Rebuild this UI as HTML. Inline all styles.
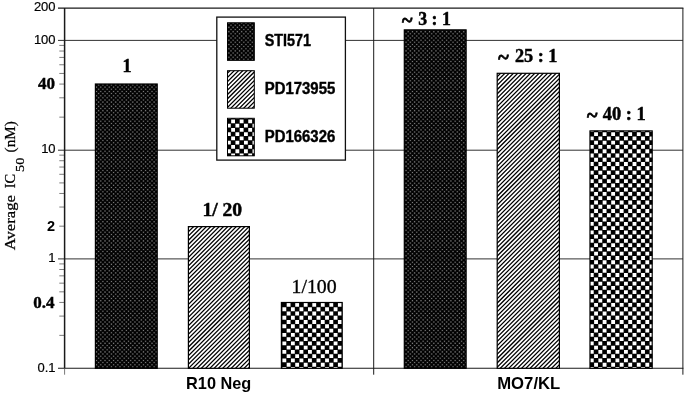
<!DOCTYPE html>
<html><head><meta charset="utf-8"><title>Average IC50</title>
<style>
html,body{margin:0;padding:0;background:#fff;}
svg{display:block;}
.sans{font-family:"Liberation Sans",Arial,Helvetica,sans-serif;}
.serif{font-family:"Liberation Serif","Times New Roman",serif;}
.b{font-weight:bold;}
</style></head><body>
<svg width="685" height="395" viewBox="0 0 685 395">
<defs>
<g id="pdots" transform="translate(-0.12,3.35) scale(1.0675)">
<rect x="-4" y="-4" width="657" height="386" fill="#000"/>
<path d="M-4 0.5H649M-2 2.5H649M-4 4.5H649M-2 6.5H649M-4 8.5H649M-2 10.5H649M-4 12.5H649M-2 14.5H649M-4 16.5H649M-2 18.5H649M-4 20.5H649M-2 22.5H649M-4 24.5H649M-2 26.5H649M-4 28.5H649M-2 30.5H649M-4 32.5H649M-2 34.5H649M-4 36.5H649M-2 38.5H649M-4 40.5H649M-2 42.5H649M-4 44.5H649M-2 46.5H649M-4 48.5H649M-2 50.5H649M-4 52.5H649M-2 54.5H649M-4 56.5H649M-2 58.5H649M-4 60.5H649M-2 62.5H649M-4 64.5H649M-2 66.5H649M-4 68.5H649M-2 70.5H649M-4 72.5H649M-2 74.5H649M-4 76.5H649M-2 78.5H649M-4 80.5H649M-2 82.5H649M-4 84.5H649M-2 86.5H649M-4 88.5H649M-2 90.5H649M-4 92.5H649M-2 94.5H649M-4 96.5H649M-2 98.5H649M-4 100.5H649M-2 102.5H649M-4 104.5H649M-2 106.5H649M-4 108.5H649M-2 110.5H649M-4 112.5H649M-2 114.5H649M-4 116.5H649M-2 118.5H649M-4 120.5H649M-2 122.5H649M-4 124.5H649M-2 126.5H649M-4 128.5H649M-2 130.5H649M-4 132.5H649M-2 134.5H649M-4 136.5H649M-2 138.5H649M-4 140.5H649M-2 142.5H649M-4 144.5H649M-2 146.5H649M-4 148.5H649M-2 150.5H649M-4 152.5H649M-2 154.5H649M-4 156.5H649M-2 158.5H649M-4 160.5H649M-2 162.5H649M-4 164.5H649M-2 166.5H649M-4 168.5H649M-2 170.5H649M-4 172.5H649M-2 174.5H649M-4 176.5H649M-2 178.5H649M-4 180.5H649M-2 182.5H649M-4 184.5H649M-2 186.5H649M-4 188.5H649M-2 190.5H649M-4 192.5H649M-2 194.5H649M-4 196.5H649M-2 198.5H649M-4 200.5H649M-2 202.5H649M-4 204.5H649M-2 206.5H649M-4 208.5H649M-2 210.5H649M-4 212.5H649M-2 214.5H649M-4 216.5H649M-2 218.5H649M-4 220.5H649M-2 222.5H649M-4 224.5H649M-2 226.5H649M-4 228.5H649M-2 230.5H649M-4 232.5H649M-2 234.5H649M-4 236.5H649M-2 238.5H649M-4 240.5H649M-2 242.5H649M-4 244.5H649M-2 246.5H649M-4 248.5H649M-2 250.5H649M-4 252.5H649M-2 254.5H649M-4 256.5H649M-2 258.5H649M-4 260.5H649M-2 262.5H649M-4 264.5H649M-2 266.5H649M-4 268.5H649M-2 270.5H649M-4 272.5H649M-2 274.5H649M-4 276.5H649M-2 278.5H649M-4 280.5H649M-2 282.5H649M-4 284.5H649M-2 286.5H649M-4 288.5H649M-2 290.5H649M-4 292.5H649M-2 294.5H649M-4 296.5H649M-2 298.5H649M-4 300.5H649M-2 302.5H649M-4 304.5H649M-2 306.5H649M-4 308.5H649M-2 310.5H649M-4 312.5H649M-2 314.5H649M-4 316.5H649M-2 318.5H649M-4 320.5H649M-2 322.5H649M-4 324.5H649M-2 326.5H649M-4 328.5H649M-2 330.5H649M-4 332.5H649M-2 334.5H649M-4 336.5H649M-2 338.5H649M-4 340.5H649M-2 342.5H649M-4 344.5H649M-2 346.5H649M-4 348.5H649M-2 350.5H649M-4 352.5H649M-2 354.5H649M-4 356.5H649M-2 358.5H649M-4 360.5H649M-2 362.5H649M-4 364.5H649M-2 366.5H649M-4 368.5H649M-2 370.5H649M-4 372.5H649M-2 374.5H649M-4 376.5H649M-2 378.5H649" fill="none" stroke="#fff" stroke-opacity="0.42" stroke-width="1" stroke-dasharray="1 3"/>
<path d="M-4 0.5H649M-2 2.5H649M-4 4.5H649M-2 6.5H649M-4 8.5H649M-2 10.5H649M-4 12.5H649M-2 14.5H649M-4 16.5H649M-2 18.5H649M-4 20.5H649M-2 22.5H649M-4 24.5H649M-2 26.5H649M-4 28.5H649M-2 30.5H649M-4 32.5H649M-2 34.5H649M-4 36.5H649M-2 38.5H649M-4 40.5H649M-2 42.5H649M-4 44.5H649M-2 46.5H649M-4 48.5H649M-2 50.5H649M-4 52.5H649M-2 54.5H649M-4 56.5H649M-2 58.5H649M-4 60.5H649M-2 62.5H649M-4 64.5H649M-2 66.5H649M-4 68.5H649M-2 70.5H649M-4 72.5H649M-2 74.5H649M-4 76.5H649M-2 78.5H649M-4 80.5H649M-2 82.5H649M-4 84.5H649M-2 86.5H649M-4 88.5H649M-2 90.5H649M-4 92.5H649M-2 94.5H649M-4 96.5H649M-2 98.5H649M-4 100.5H649M-2 102.5H649M-4 104.5H649M-2 106.5H649M-4 108.5H649M-2 110.5H649M-4 112.5H649M-2 114.5H649M-4 116.5H649M-2 118.5H649M-4 120.5H649M-2 122.5H649M-4 124.5H649M-2 126.5H649M-4 128.5H649M-2 130.5H649M-4 132.5H649M-2 134.5H649M-4 136.5H649M-2 138.5H649M-4 140.5H649M-2 142.5H649M-4 144.5H649M-2 146.5H649M-4 148.5H649M-2 150.5H649M-4 152.5H649M-2 154.5H649M-4 156.5H649M-2 158.5H649M-4 160.5H649M-2 162.5H649M-4 164.5H649M-2 166.5H649M-4 168.5H649M-2 170.5H649M-4 172.5H649M-2 174.5H649M-4 176.5H649M-2 178.5H649M-4 180.5H649M-2 182.5H649M-4 184.5H649M-2 186.5H649M-4 188.5H649M-2 190.5H649M-4 192.5H649M-2 194.5H649M-4 196.5H649M-2 198.5H649M-4 200.5H649M-2 202.5H649M-4 204.5H649M-2 206.5H649M-4 208.5H649M-2 210.5H649M-4 212.5H649M-2 214.5H649M-4 216.5H649M-2 218.5H649M-4 220.5H649M-2 222.5H649M-4 224.5H649M-2 226.5H649M-4 228.5H649M-2 230.5H649M-4 232.5H649M-2 234.5H649M-4 236.5H649M-2 238.5H649M-4 240.5H649M-2 242.5H649M-4 244.5H649M-2 246.5H649M-4 248.5H649M-2 250.5H649M-4 252.5H649M-2 254.5H649M-4 256.5H649M-2 258.5H649M-4 260.5H649M-2 262.5H649M-4 264.5H649M-2 266.5H649M-4 268.5H649M-2 270.5H649M-4 272.5H649M-2 274.5H649M-4 276.5H649M-2 278.5H649M-4 280.5H649M-2 282.5H649M-4 284.5H649M-2 286.5H649M-4 288.5H649M-2 290.5H649M-4 292.5H649M-2 294.5H649M-4 296.5H649M-2 298.5H649M-4 300.5H649M-2 302.5H649M-4 304.5H649M-2 306.5H649M-4 308.5H649M-2 310.5H649M-4 312.5H649M-2 314.5H649M-4 316.5H649M-2 318.5H649M-4 320.5H649M-2 322.5H649M-4 324.5H649M-2 326.5H649M-4 328.5H649M-2 330.5H649M-4 332.5H649M-2 334.5H649M-4 336.5H649M-2 338.5H649M-4 340.5H649M-2 342.5H649M-4 344.5H649M-2 346.5H649M-4 348.5H649M-2 350.5H649M-4 352.5H649M-2 354.5H649M-4 356.5H649M-2 358.5H649M-4 360.5H649M-2 362.5H649M-4 364.5H649M-2 366.5H649M-4 368.5H649M-2 370.5H649M-4 372.5H649M-2 374.5H649M-4 376.5H649M-2 378.5H649" fill="none" stroke="#fff" stroke-opacity="0.11" stroke-width="1.9" stroke-dasharray="1.9 2.1" transform="translate(-0.45,0)"/>
</g>
<g id="phatch" transform="translate(0.38,3.5) scale(1.0675)">
<rect x="-4" y="-4" width="657" height="386" fill="#fff"/>
<path d="M0 -2L-382 380M4 -2L-378 380M8 -2L-374 380M12 -2L-370 380M16 -2L-366 380M20 -2L-362 380M24 -2L-358 380M28 -2L-354 380M32 -2L-350 380M36 -2L-346 380M40 -2L-342 380M44 -2L-338 380M48 -2L-334 380M52 -2L-330 380M56 -2L-326 380M60 -2L-322 380M64 -2L-318 380M68 -2L-314 380M72 -2L-310 380M76 -2L-306 380M80 -2L-302 380M84 -2L-298 380M88 -2L-294 380M92 -2L-290 380M96 -2L-286 380M100 -2L-282 380M104 -2L-278 380M108 -2L-274 380M112 -2L-270 380M116 -2L-266 380M120 -2L-262 380M124 -2L-258 380M128 -2L-254 380M132 -2L-250 380M136 -2L-246 380M140 -2L-242 380M144 -2L-238 380M148 -2L-234 380M152 -2L-230 380M156 -2L-226 380M160 -2L-222 380M164 -2L-218 380M168 -2L-214 380M172 -2L-210 380M176 -2L-206 380M180 -2L-202 380M184 -2L-198 380M188 -2L-194 380M192 -2L-190 380M196 -2L-186 380M200 -2L-182 380M204 -2L-178 380M208 -2L-174 380M212 -2L-170 380M216 -2L-166 380M220 -2L-162 380M224 -2L-158 380M228 -2L-154 380M232 -2L-150 380M236 -2L-146 380M240 -2L-142 380M244 -2L-138 380M248 -2L-134 380M252 -2L-130 380M256 -2L-126 380M260 -2L-122 380M264 -2L-118 380M268 -2L-114 380M272 -2L-110 380M276 -2L-106 380M280 -2L-102 380M284 -2L-98 380M288 -2L-94 380M292 -2L-90 380M296 -2L-86 380M300 -2L-82 380M304 -2L-78 380M308 -2L-74 380M312 -2L-70 380M316 -2L-66 380M320 -2L-62 380M324 -2L-58 380M328 -2L-54 380M332 -2L-50 380M336 -2L-46 380M340 -2L-42 380M344 -2L-38 380M348 -2L-34 380M352 -2L-30 380M356 -2L-26 380M360 -2L-22 380M364 -2L-18 380M368 -2L-14 380M372 -2L-10 380M376 -2L-6 380M380 -2L-2 380M384 -2L2 380M388 -2L6 380M392 -2L10 380M396 -2L14 380M400 -2L18 380M404 -2L22 380M408 -2L26 380M412 -2L30 380M416 -2L34 380M420 -2L38 380M424 -2L42 380M428 -2L46 380M432 -2L50 380M436 -2L54 380M440 -2L58 380M444 -2L62 380M448 -2L66 380M452 -2L70 380M456 -2L74 380M460 -2L78 380M464 -2L82 380M468 -2L86 380M472 -2L90 380M476 -2L94 380M480 -2L98 380M484 -2L102 380M488 -2L106 380M492 -2L110 380M496 -2L114 380M500 -2L118 380M504 -2L122 380M508 -2L126 380M512 -2L130 380M516 -2L134 380M520 -2L138 380M524 -2L142 380M528 -2L146 380M532 -2L150 380M536 -2L154 380M540 -2L158 380M544 -2L162 380M548 -2L166 380M552 -2L170 380M556 -2L174 380M560 -2L178 380M564 -2L182 380M568 -2L186 380M572 -2L190 380M576 -2L194 380M580 -2L198 380M584 -2L202 380M588 -2L206 380M592 -2L210 380M596 -2L214 380M600 -2L218 380M604 -2L222 380M608 -2L226 380M612 -2L230 380M616 -2L234 380M620 -2L238 380M624 -2L242 380M628 -2L246 380M632 -2L250 380M636 -2L254 380M640 -2L258 380M644 -2L262 380M648 -2L266 380M652 -2L270 380M656 -2L274 380M660 -2L278 380M664 -2L282 380M668 -2L286 380M672 -2L290 380M676 -2L294 380M680 -2L298 380M684 -2L302 380M688 -2L306 380M692 -2L310 380M696 -2L314 380M700 -2L318 380M704 -2L322 380M708 -2L326 380M712 -2L330 380M716 -2L334 380M720 -2L338 380M724 -2L342 380M728 -2L346 380M732 -2L350 380M736 -2L354 380M740 -2L358 380M744 -2L362 380M748 -2L366 380M752 -2L370 380M756 -2L374 380M760 -2L378 380M764 -2L382 380M768 -2L386 380M772 -2L390 380M776 -2L394 380M780 -2L398 380M784 -2L402 380M788 -2L406 380M792 -2L410 380M796 -2L414 380M800 -2L418 380M804 -2L422 380M808 -2L426 380M812 -2L430 380M816 -2L434 380M820 -2L438 380M824 -2L442 380M828 -2L446 380M832 -2L450 380M836 -2L454 380M840 -2L458 380M844 -2L462 380M848 -2L466 380M852 -2L470 380M856 -2L474 380M860 -2L478 380M864 -2L482 380M868 -2L486 380M872 -2L490 380M876 -2L494 380M880 -2L498 380M884 -2L502 380M888 -2L506 380M892 -2L510 380M896 -2L514 380M900 -2L518 380M904 -2L522 380M908 -2L526 380M912 -2L530 380M916 -2L534 380M920 -2L538 380M924 -2L542 380M928 -2L546 380M932 -2L550 380M936 -2L554 380M940 -2L558 380M944 -2L562 380M948 -2L566 380M952 -2L570 380M956 -2L574 380M960 -2L578 380M964 -2L582 380M968 -2L586 380M972 -2L590 380M976 -2L594 380M980 -2L598 380M984 -2L602 380M988 -2L606 380M992 -2L610 380M996 -2L614 380M1000 -2L618 380M1004 -2L622 380M1008 -2L626 380M1012 -2L630 380M1016 -2L634 380M1020 -2L638 380M1024 -2L642 380M1028 -2L646 380M1032 -2L650 380" fill="none" stroke="#000" stroke-width="1.18"/>
</g>
<g id="pcheck" transform="translate(0.38,3.90) scale(1.0675)">
<rect x="-4" y="-4" width="657" height="386" fill="#fff"/>
<path d="M-8.2 2H649M-4.2 6H649M-8.2 10H649M-4.2 14H649M-8.2 18H649M-4.2 22H649M-8.2 26H649M-4.2 30H649M-8.2 34H649M-4.2 38H649M-8.2 42H649M-4.2 46H649M-8.2 50H649M-4.2 54H649M-8.2 58H649M-4.2 62H649M-8.2 66H649M-4.2 70H649M-8.2 74H649M-4.2 78H649M-8.2 82H649M-4.2 86H649M-8.2 90H649M-4.2 94H649M-8.2 98H649M-4.2 102H649M-8.2 106H649M-4.2 110H649M-8.2 114H649M-4.2 118H649M-8.2 122H649M-4.2 126H649M-8.2 130H649M-4.2 134H649M-8.2 138H649M-4.2 142H649M-8.2 146H649M-4.2 150H649M-8.2 154H649M-4.2 158H649M-8.2 162H649M-4.2 166H649M-8.2 170H649M-4.2 174H649M-8.2 178H649M-4.2 182H649M-8.2 186H649M-4.2 190H649M-8.2 194H649M-4.2 198H649M-8.2 202H649M-4.2 206H649M-8.2 210H649M-4.2 214H649M-8.2 218H649M-4.2 222H649M-8.2 226H649M-4.2 230H649M-8.2 234H649M-4.2 238H649M-8.2 242H649M-4.2 246H649M-8.2 250H649M-4.2 254H649M-8.2 258H649M-4.2 262H649M-8.2 266H649M-4.2 270H649M-8.2 274H649M-4.2 278H649M-8.2 282H649M-4.2 286H649M-8.2 290H649M-4.2 294H649M-8.2 298H649M-4.2 302H649M-8.2 306H649M-4.2 310H649M-8.2 314H649M-4.2 318H649M-8.2 322H649M-4.2 326H649M-8.2 330H649M-4.2 334H649M-8.2 338H649M-4.2 342H649M-8.2 346H649M-4.2 350H649M-8.2 354H649M-4.2 358H649M-8.2 362H649M-4.2 366H649M-8.2 370H649M-4.2 374H649M-8.2 378H649" fill="none" stroke="#000" stroke-width="4.4" stroke-dasharray="4.4 3.6"/>
</g>
<clipPath id="cb0"><rect x="95.3" y="83.9" width="62" height="284.4"/></clipPath>
<clipPath id="cb1"><rect x="188.3" y="226.5" width="61.2" height="141.8"/></clipPath>
<clipPath id="cb2"><rect x="281.3" y="302.4" width="61" height="65.9"/></clipPath>
<clipPath id="cb3"><rect x="404.2" y="29.8" width="62" height="338.5"/></clipPath>
<clipPath id="cb4"><rect x="497.1" y="73.2" width="62.4" height="295.1"/></clipPath>
<clipPath id="cb5"><rect x="589.9" y="130.8" width="62.4" height="237.5"/></clipPath>
<clipPath id="cs0"><rect x="227.4" y="22.7" width="27" height="37.7"/></clipPath>
<clipPath id="cs1"><rect x="227.4" y="70.6" width="27" height="37.7"/></clipPath>
<clipPath id="cs2"><rect x="227.4" y="118.2" width="27" height="37.7"/></clipPath>
</defs>
<rect width="685" height="395" fill="#fff"/>
<line x1="64.6" y1="40.4" x2="682.9" y2="40.4" stroke="#1a1a1a" stroke-width="0.9"/>
<line x1="64.6" y1="150.2" x2="682.9" y2="150.2" stroke="#1a1a1a" stroke-width="0.9"/>
<line x1="64.6" y1="258.9" x2="682.9" y2="258.9" stroke="#1a1a1a" stroke-width="0.9"/>
<line x1="59.3" y1="335.37" x2="64.6" y2="335.37" stroke="#444" stroke-width="0.7"/>
<line x1="59.3" y1="316.1" x2="64.6" y2="316.1" stroke="#444" stroke-width="0.7"/>
<line x1="59.3" y1="302.43" x2="64.6" y2="302.43" stroke="#444" stroke-width="0.7"/>
<line x1="59.3" y1="291.83" x2="64.6" y2="291.83" stroke="#444" stroke-width="0.7"/>
<line x1="59.3" y1="283.17" x2="64.6" y2="283.17" stroke="#444" stroke-width="0.7"/>
<line x1="59.3" y1="275.85" x2="64.6" y2="275.85" stroke="#444" stroke-width="0.7"/>
<line x1="59.3" y1="269.5" x2="64.6" y2="269.5" stroke="#444" stroke-width="0.7"/>
<line x1="59.3" y1="263.91" x2="64.6" y2="263.91" stroke="#444" stroke-width="0.7"/>
<line x1="59.3" y1="226.18" x2="64.6" y2="226.18" stroke="#444" stroke-width="0.7"/>
<line x1="59.3" y1="207.04" x2="64.6" y2="207.04" stroke="#444" stroke-width="0.7"/>
<line x1="59.3" y1="193.46" x2="64.6" y2="193.46" stroke="#444" stroke-width="0.7"/>
<line x1="59.3" y1="182.92" x2="64.6" y2="182.92" stroke="#444" stroke-width="0.7"/>
<line x1="59.3" y1="174.31" x2="64.6" y2="174.31" stroke="#444" stroke-width="0.7"/>
<line x1="59.3" y1="167.04" x2="64.6" y2="167.04" stroke="#444" stroke-width="0.7"/>
<line x1="59.3" y1="160.73" x2="64.6" y2="160.73" stroke="#444" stroke-width="0.7"/>
<line x1="59.3" y1="155.17" x2="64.6" y2="155.17" stroke="#444" stroke-width="0.7"/>
<line x1="59.3" y1="117.15" x2="64.6" y2="117.15" stroke="#444" stroke-width="0.7"/>
<line x1="59.3" y1="97.81" x2="64.6" y2="97.81" stroke="#444" stroke-width="0.7"/>
<line x1="59.3" y1="84.09" x2="64.6" y2="84.09" stroke="#444" stroke-width="0.7"/>
<line x1="59.3" y1="73.45" x2="64.6" y2="73.45" stroke="#444" stroke-width="0.7"/>
<line x1="59.3" y1="64.76" x2="64.6" y2="64.76" stroke="#444" stroke-width="0.7"/>
<line x1="59.3" y1="57.41" x2="64.6" y2="57.41" stroke="#444" stroke-width="0.7"/>
<line x1="59.3" y1="51.04" x2="64.6" y2="51.04" stroke="#444" stroke-width="0.7"/>
<line x1="59.3" y1="45.42" x2="64.6" y2="45.42" stroke="#444" stroke-width="0.7"/>
<line x1="58" y1="40.4" x2="64.6" y2="40.4" stroke="#1a1a1a" stroke-width="0.9"/>
<line x1="58" y1="150.2" x2="64.6" y2="150.2" stroke="#1a1a1a" stroke-width="0.9"/>
<line x1="58" y1="258.9" x2="64.6" y2="258.9" stroke="#1a1a1a" stroke-width="0.9"/>
<line x1="58" y1="8.1" x2="683.4" y2="8.1" stroke="#1a1a1a" stroke-width="1.2"/>
<line x1="58" y1="368.3" x2="683.4" y2="368.3" stroke="#1a1a1a" stroke-width="1.1"/>
<line x1="64.6" y1="8.1" x2="64.6" y2="368.3" stroke="#1a1a1a" stroke-width="1.5"/>
<line x1="64.6" y1="368.3" x2="64.6" y2="374.7" stroke="#555" stroke-width="0.8"/>
<line x1="373.7" y1="8.1" x2="373.7" y2="374.7" stroke="#1a1a1a" stroke-width="1"/>
<line x1="682.9" y1="8.1" x2="682.9" y2="374.7" stroke="#1a1a1a" stroke-width="1"/>
<use href="#pdots" clip-path="url(#cb0)"/>
<rect x="95.4" y="84" width="61.8" height="284.3" fill="none" stroke="#000" stroke-width="1.2"/>
<use href="#phatch" clip-path="url(#cb1)"/>
<rect x="188.4" y="226.6" width="61" height="141.7" fill="none" stroke="#000" stroke-width="1.2"/>
<use href="#pcheck" clip-path="url(#cb2)"/>
<rect x="281.4" y="302.5" width="60.8" height="65.8" fill="none" stroke="#000" stroke-width="1.2"/>
<use href="#pdots" clip-path="url(#cb3)"/>
<rect x="404.3" y="29.9" width="61.8" height="338.4" fill="none" stroke="#000" stroke-width="1.2"/>
<use href="#phatch" clip-path="url(#cb4)"/>
<rect x="497.2" y="73.3" width="62.2" height="295" fill="none" stroke="#000" stroke-width="1.2"/>
<use href="#pcheck" clip-path="url(#cb5)"/>
<rect x="590" y="130.9" width="62.2" height="237.4" fill="none" stroke="#000" stroke-width="1.2"/>
<rect x="216.8" y="17.1" width="128.6" height="143" fill="#fff" stroke="#111" stroke-width="1.3"/>
<use href="#pdots" clip-path="url(#cs0)"/>
<rect x="227.5" y="22.8" width="26.8" height="37.5" fill="none" stroke="#000" stroke-width="1"/>
<use href="#phatch" clip-path="url(#cs1)"/>
<rect x="227.5" y="70.7" width="26.8" height="37.5" fill="none" stroke="#000" stroke-width="1"/>
<use href="#pcheck" clip-path="url(#cs2)"/>
<rect x="227.5" y="118.3" width="26.8" height="37.5" fill="none" stroke="#000" stroke-width="1"/>
<text class="sans b" x="264.7" y="45.9" font-size="15.8" textLength="46.3" lengthAdjust="spacingAndGlyphs" fill="#000" stroke="#000" stroke-width="0.4">STI571</text>
<text class="sans b" x="264.7" y="93.9" font-size="15.8" textLength="70.6" lengthAdjust="spacingAndGlyphs" fill="#000" stroke="#000" stroke-width="0.4">PD173955</text>
<text class="sans b" x="264.7" y="142.1" font-size="15.8" textLength="70.6" lengthAdjust="spacingAndGlyphs" fill="#000" stroke="#000" stroke-width="0.4">PD166326</text>
<text class="serif b" x="127.1" y="71.7" font-size="18" text-anchor="middle" fill="#000" stroke="#000" stroke-width="0.5">1</text>
<text class="serif b" x="202.4" y="216.3" font-size="18" textLength="39.8" lengthAdjust="spacingAndGlyphs" fill="#000" xml:space="preserve" stroke="#000" stroke-width="0.45">1/ 20</text>
<text class="serif" x="291.5" y="292.7" font-size="18" textLength="45.2" lengthAdjust="spacingAndGlyphs" fill="#000" xml:space="preserve" stroke="#000" stroke-width="0.3">1/100</text>
<text class="serif b" x="402.0" y="26.5" font-size="20" fill="#000" stroke="#000" stroke-width="0.7">~</text>
<text class="serif b" x="418.2" y="24.8" font-size="18" textLength="32.6" lengthAdjust="spacingAndGlyphs" fill="#000" xml:space="preserve" stroke="#000" stroke-width="0.45">3 : 1</text>
<text class="serif b" x="498.3" y="64.1" font-size="20" fill="#000" stroke="#000" stroke-width="0.7">~</text>
<text class="serif b" x="514.9" y="62.4" font-size="18" textLength="42.6" lengthAdjust="spacingAndGlyphs" fill="#000" xml:space="preserve" stroke="#000" stroke-width="0.45">25 : 1</text>
<text class="serif b" x="587.0" y="122.1" font-size="20" fill="#000" stroke="#000" stroke-width="0.7">~</text>
<text class="serif b" x="602.7" y="120.4" font-size="18" textLength="43.0" lengthAdjust="spacingAndGlyphs" fill="#000" xml:space="preserve" stroke="#000" stroke-width="0.45">40 : 1</text>
<text class="sans" x="55.6" y="11.3" font-size="13" text-anchor="end" fill="#000" stroke="#000" stroke-width="0.2">200</text>
<text class="sans" x="55.6" y="43.6" font-size="13" text-anchor="end" fill="#000" stroke="#000" stroke-width="0.2">100</text>
<text class="sans" x="55.6" y="153.4" font-size="13" text-anchor="end" fill="#000" stroke="#000" stroke-width="0.2">10</text>
<text class="sans" x="55.6" y="262.1" font-size="13" text-anchor="end" fill="#000" stroke="#000" stroke-width="0.2">1</text>
<text class="sans" x="55.6" y="371.7" font-size="13" text-anchor="end" fill="#000" stroke="#000" stroke-width="0.2">0.1</text>
<text class="serif b" x="55" y="88.7" font-size="17" text-anchor="end" fill="#000" stroke="#000" stroke-width="0.4">40</text>
<text class="serif b" x="54.4" y="307.7" font-size="17" text-anchor="end" fill="#000" stroke="#000" stroke-width="0.4">0.4</text>
<text class="sans b" x="55.2" y="231.3" font-size="14.5" text-anchor="end" fill="#000">2</text>
<text class="serif" transform="translate(14.5,250.3) rotate(-90)" font-size="15" textLength="55.3" lengthAdjust="spacingAndGlyphs" fill="#000" stroke="#000" stroke-width="0.25">Average</text>
<text class="serif" transform="translate(14.5,188.2) rotate(-90)" font-size="15" textLength="14.4" lengthAdjust="spacingAndGlyphs" fill="#000" stroke="#000" stroke-width="0.25">IC</text>
<text class="serif" transform="translate(23.6,172.0) rotate(-90)" font-size="12.5" textLength="14.3" lengthAdjust="spacingAndGlyphs" fill="#000" stroke="#000" stroke-width="0.25">50</text>
<text class="serif" transform="translate(14.5,152.4) rotate(-90)" font-size="15" textLength="31.1" lengthAdjust="spacingAndGlyphs" fill="#000" stroke="#000" stroke-width="0.25">(nM)</text>
<text class="sans b" x="186.1" y="388.7" font-size="16.3" textLength="65.2" lengthAdjust="spacingAndGlyphs" fill="#000">R10 Neg</text>
<text class="sans b" x="497.2" y="388.7" font-size="16.3" textLength="63.1" lengthAdjust="spacingAndGlyphs" fill="#000">MO7/KL</text>
</svg></body></html>
